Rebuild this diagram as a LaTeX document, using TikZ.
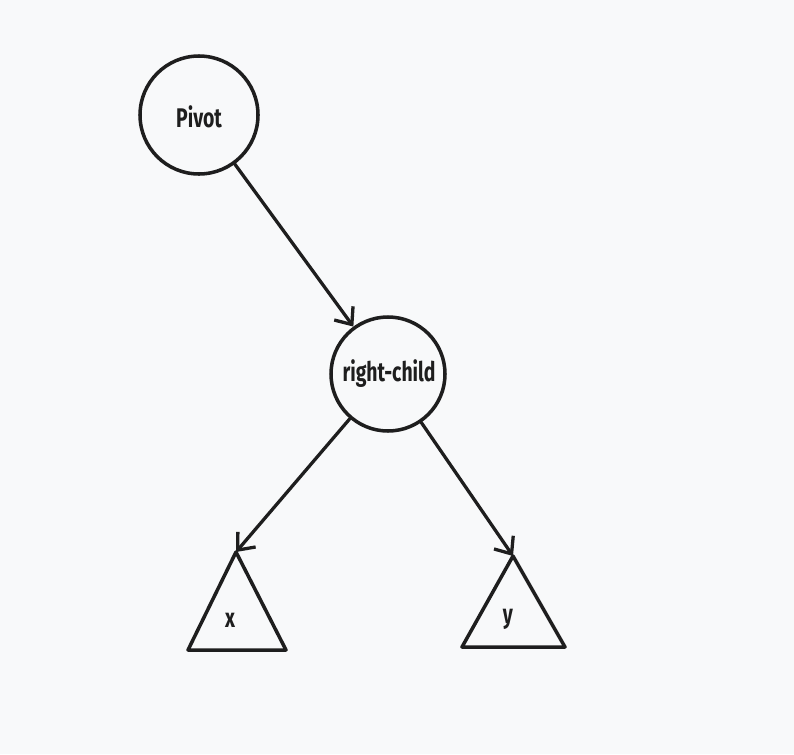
\documentclass[tikz,border=0pt]{standalone}
\usepackage{fontspec}
\newfontfamily\handfont[FakeStretch=0.72]{Fira Sans}
\usetikzlibrary{arrows.meta}
\definecolor{paper}{RGB}{248,249,250}
\definecolor{ink}{RGB}{30,30,30}

\begin{document}
\begin{tikzpicture}[x=0.03cm, y=-0.03cm,
  vertex/.style={draw=ink, circle, line width=3pt, inner sep=0pt},
  label/.style={font=\handfont\bfseries\fontsize{23}{23}\selectfont, text=ink},
  edge/.style={draw=ink, line width=2.8pt, line cap=round, -{Straight Barb[length=4.2mm, width=7mm, line width=2.8pt]}},
  subtree/.style={draw=ink, line width=3pt, line join=round}]

\fill[paper] (0,0) rectangle (794,754);
\useasboundingbox (0,0) rectangle (794,754);

\node[name=pivot, vertex, minimum size=3.54cm] at (199,115) {};
\node[name=pivotlbl, label] at (199,117) {Pivot};
\node[name=rchild, vertex, minimum size=3.42cm] at (388,374) {};
\node[name=rchildlbl, label] at (389,374) {right-child};

\coordinate (xtop) at (236,552);
\coordinate (ytop) at (513,556);
\draw[subtree] (xtop) -- (188,650) -- (286,650) -- cycle;
\draw[subtree] (ytop) -- (462,647) -- (565,647) -- cycle;
\node[name=xlbl, label] at (230,620) {x};
\node[name=ylbl, label] at (508,619) {y};

\draw[edge] (pivot) -- (rchild);
\draw[edge] (rchild) -- (xtop);
\draw[edge] (rchild) -- (ytop);
\end{tikzpicture}
\end{document}
